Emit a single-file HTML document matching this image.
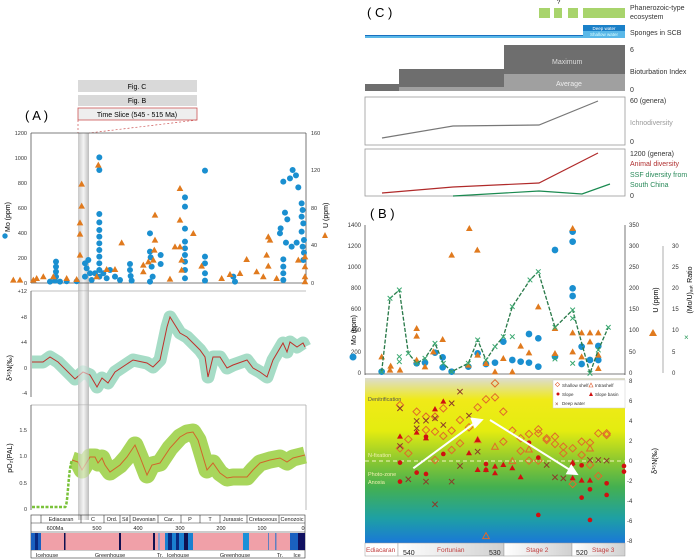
<!DOCTYPE html>
<html><head><meta charset="utf-8"><style>
body{margin:0;background:#fff}
svg{display:block;font-family:"Liberation Sans",sans-serif}
</style></head><body>
<svg width="700" height="559" viewBox="0 0 700 559" xmlns="http://www.w3.org/2000/svg">
<defs>
<linearGradient id="gB" x1="0" y1="0" x2="0" y2="1">
<stop offset="0" stop-color="#dcdcd2"/><stop offset="0.13" stop-color="#f0ea18"/><stop offset="0.32" stop-color="#e4ec10"/><stop offset="0.5" stop-color="#8cc830"/><stop offset="0.66" stop-color="#44b050"/><stop offset="0.85" stop-color="#1ea0a4"/><stop offset="1" stop-color="#1a78d8"/>
</linearGradient>
<linearGradient id="gBand" x1="0" y1="0" x2="1" y2="0">
<stop offset="0" stop-color="#c8c8c8"/><stop offset="0.5" stop-color="#f4f4f4"/><stop offset="1" stop-color="#bdbdbd"/>
</linearGradient>
<linearGradient id="gT" x1="0" y1="0" x2="1" y2="0">
<stop offset="0" stop-color="#fff"/><stop offset="1" stop-color="#d0d0d0"/>
</linearGradient>
</defs>

<!-- ===== Panel A ===== -->
<text x="25" y="120" font-size="13">( A )</text>
<rect x="78" y="80" width="119" height="12" fill="#d9d9d9"/>
<text x="137" y="89" font-size="7" text-anchor="middle">Fig. C</text>
<rect x="78" y="95" width="119" height="11" fill="#d9d9d9"/>
<text x="137" y="103" font-size="7" text-anchor="middle">Fig. B</text>
<rect x="78" y="108" width="119" height="12" fill="#eee" stroke="#c55" stroke-width="0.8"/>
<text x="137" y="117" font-size="7" text-anchor="middle">Time Slice (545 - 515 Ma)</text>
<line x1="78" y1="120" x2="78" y2="133" stroke="#c55" stroke-dasharray="2,2" stroke-width="0.7"/>
<line x1="197" y1="120" x2="89" y2="133" stroke="#c55" stroke-dasharray="2,2" stroke-width="0.7"/>
<rect x="78" y="133" width="11" height="387" fill="url(#gBand)"/>

<!-- scatter axes -->
<g stroke="#555" stroke-width="0.8" fill="none">
<line x1="31" y1="133" x2="306" y2="133"/><line x1="31" y1="133" x2="31" y2="283"/><line x1="306" y1="133" x2="306" y2="283"/><line x1="31" y1="283" x2="306" y2="283"/>
<line x1="31" y1="291" x2="306" y2="291" stroke="#aaa"/><line x1="31" y1="291" x2="31" y2="397"/>
<line x1="31" y1="405" x2="306" y2="405" stroke="#aaa"/><line x1="31" y1="405" x2="31" y2="510"/><line x1="306" y1="405" x2="306" y2="510" stroke="#aaa"/>
</g>
<g font-size="5.5" fill="#333" text-anchor="end">
<text x="27" y="135">1200</text><text x="27" y="160">1000</text><text x="27" y="185">800</text><text x="27" y="210">600</text><text x="27" y="235">400</text><text x="27" y="260">200</text><text x="27" y="285">0</text>
<text x="27" y="293">+12</text><text x="27" y="319">+8</text><text x="27" y="344">+4</text><text x="27" y="370">0</text><text x="27" y="395">-4</text>
<text x="27" y="432">1.5</text><text x="27" y="458">1.0</text><text x="27" y="485">0.5</text><text x="27" y="511">0</text>
</g>
<g font-size="5.5" fill="#333">
<text x="311" y="135">160</text><text x="311" y="172">120</text><text x="311" y="210">80</text><text x="311" y="247">40</text><text x="311" y="285">0</text>
</g>
<circle cx="5" cy="236" r="2.7" fill="#1a8fd0"/>
<text transform="translate(10,232) rotate(-90)" font-size="7">Mo (ppm)</text>
<text transform="translate(328,228) rotate(-90)" font-size="7">U (ppm)</text>
<polygon points="322,238 325,232 328,238" fill="#e07a1e"/>
<text transform="translate(12,368) rotate(-90)" font-size="7" text-anchor="middle">δ¹⁵N(‰)</text>
<text transform="translate(12,458) rotate(-90)" font-size="7" text-anchor="middle">pO₂(PAL)</text>

<!-- A scatter (zoom1 coords) -->
<g transform="translate(0,60) scale(0.3333)">
<g fill="#1a8fd0">
<circle cx="150" cy="665" r="9"/><circle cx="165" cy="662" r="9"/><circle cx="180" cy="665" r="9"/><circle cx="200" cy="664" r="9"/><circle cx="230" cy="664" r="9"/>
<circle cx="168" cy="605" r="9"/><circle cx="168" cy="620" r="9"/><circle cx="168" cy="635" r="9"/><circle cx="168" cy="650" r="9"/>
<circle cx="255" cy="610" r="9"/><circle cx="265" cy="600" r="9"/><circle cx="260" cy="625" r="9"/><circle cx="270" cy="640" r="9"/><circle cx="255" cy="650" r="9"/><circle cx="275" cy="660" r="9"/><circle cx="285" cy="640" r="9"/>
<circle cx="298" cy="292" r="9"/><circle cx="298" cy="330" r="9"/><circle cx="298" cy="462" r="9"/><circle cx="298" cy="487" r="9"/><circle cx="298" cy="510" r="9"/><circle cx="298" cy="530" r="9"/><circle cx="298" cy="550" r="9"/><circle cx="298" cy="570" r="9"/><circle cx="298" cy="590" r="9"/><circle cx="298" cy="610" r="9"/><circle cx="298" cy="630" r="9"/><circle cx="298" cy="650" r="9"/>
<circle cx="310" cy="640" r="9"/><circle cx="320" cy="655" r="9"/><circle cx="330" cy="630" r="9"/><circle cx="345" cy="650" r="9"/><circle cx="360" cy="660" r="9"/>
<circle cx="390" cy="612" r="9"/><circle cx="390" cy="630" r="9"/><circle cx="392" cy="648" r="9"/><circle cx="395" cy="662" r="9"/>
<circle cx="450" cy="520" r="9"/><circle cx="450" cy="575" r="9"/><circle cx="452" cy="592" r="9"/><circle cx="455" cy="620" r="9"/><circle cx="458" cy="650" r="9"/><circle cx="450" cy="665" r="9"/>
<circle cx="482" cy="585" r="9"/><circle cx="482" cy="612" r="9"/>
<circle cx="555" cy="412" r="9"/><circle cx="555" cy="440" r="9"/><circle cx="555" cy="506" r="9"/><circle cx="555" cy="545" r="9"/><circle cx="555" cy="565" r="9"/><circle cx="555" cy="585" r="9"/><circle cx="555" cy="605" r="9"/><circle cx="555" cy="630" r="9"/><circle cx="555" cy="655" r="9"/>
<circle cx="615" cy="332" r="9"/><circle cx="615" cy="590" r="9"/><circle cx="615" cy="610" r="9"/><circle cx="615" cy="640" r="9"/><circle cx="615" cy="662" r="9"/>
<circle cx="700" cy="650" r="9"/><circle cx="705" cy="665" r="9"/>
<circle cx="850" cy="365" r="9"/><circle cx="855" cy="458" r="9"/><circle cx="862" cy="478" r="9"/><circle cx="870" cy="355" r="9"/><circle cx="878" cy="330" r="9"/><circle cx="888" cy="346" r="9"/><circle cx="895" cy="382" r="9"/><circle cx="842" cy="505" r="9"/><circle cx="840" cy="520" r="9"/>
<circle cx="850" cy="598" r="9"/><circle cx="850" cy="620" r="9"/><circle cx="850" cy="640" r="9"/><circle cx="850" cy="660" r="9"/><circle cx="858" cy="548" r="9"/><circle cx="875" cy="560" r="9"/><circle cx="890" cy="548" r="9"/>
<circle cx="905" cy="430" r="9"/><circle cx="908" cy="450" r="9"/><circle cx="905" cy="470" r="9"/><circle cx="910" cy="490" r="9"/><circle cx="905" cy="515" r="9"/><circle cx="912" cy="540" r="9"/><circle cx="908" cy="560" r="9"/><circle cx="912" cy="578" r="9"/><circle cx="910" cy="600" r="9"/>
</g>
<g fill="#e07a1e">
<path d="M245 362l10 18h-20z M245 428l10 18h-20z M240 478l10 18h-20z M240 512l10 18h-20z M240 575l10 18h-20z M295 305l10 18h-20z M290 640l10 18h-20z M100 650l10 18h-20z M60 650l10 18h-20z M40 650l10 18h-20z M110 645l10 18h-20z M130 640l10 18h-20z M160 640l10 18h-20z M200 645l10 18h-20z M230 648l10 18h-20z M320 618l10 18h-20z M345 618l10 18h-20z M365 538l10 18h-20z M430 605l10 18h-20z M445 595l10 18h-20z M460 590l10 18h-20z M465 455l10 18h-20z M465 530l10 18h-20z M463 560l10 18h-20z M430 625l10 18h-20z M510 647l10 18h-20z M525 550l10 18h-20z M540 375l10 18h-20z M540 470l10 18h-20z M540 550l10 18h-20z M545 590l10 18h-20z M545 620l10 18h-20z M580 510l10 18h-20z M605 608l10 18h-20z M665 645l10 18h-20z M690 633l10 18h-20z M720 630l10 18h-20z M740 588l10 18h-20z M770 625l10 18h-20z M800 575l10 18h-20z M805 520l10 18h-20z M810 530l10 18h-20z M805 608l10 18h-20z M790 640l10 18h-20z M830 645l10 18h-20z M895 590l10 18h-20z M915 580l10 18h-20z M915 610l10 18h-20z M915 640l10 18h-20z M915 655l10 18h-20z"/>
</g>
</g>

<!-- d15N -->
<polyline fill="none" stroke="#a6dcc6" stroke-width="13" stroke-linejoin="round" points="32,362 43,362 50,357 58,362 75,379 83,372 90,375 97,387 102,378 108,383 115,372 133,360 147,363 153,367 160,360 167,327 170,317 175,325 180,333 187,337 193,343 200,350 205,357 208,377 213,357 220,357 227,368 233,365 247,360 253,368 260,372 267,377 273,360 283,343 287,352 290,342 297,347 303,343 305,347"/>
<polyline fill="none" stroke="#c0302a" stroke-width="1" points="32,362 43,362 50,357 58,362 75,379 83,372 90,375 97,387 102,378 108,383 115,372 133,360 147,363 153,367 160,360 167,327 170,317 175,325 180,333 187,337 193,343 200,350 205,357 208,377 213,357 220,357 227,368 233,365 247,360 253,368 260,372 267,377 273,360 283,343 287,352 290,342 297,347 303,343 305,347"/>
<rect x="78" y="291" width="11" height="110" fill="url(#gBand)" opacity="0.6"/>

<!-- pO2 -->
<polyline fill="none" stroke="#a8d65c" stroke-width="17" stroke-linejoin="round" points="72,460 78,462 82,470 90,457 95,457 98,463 102,458 105,465 110,472 120,465 127,457 135,445 140,457 147,475 152,465 160,463 170,448 180,437 187,433 193,432 198,440 207,470 213,463 220,473 227,478 233,477 247,477 253,470 260,463 270,460 280,458 287,462 293,458 305,455"/>
<polyline fill="none" stroke="#d0662a" stroke-width="1" points="72,460 78,462 82,470 90,457 95,457 98,463 102,458 105,465 110,472 120,465 127,457 135,445 140,457 147,475 152,465 160,463 170,448 180,437 187,433 193,432 198,440 207,470 213,463 220,473 227,478 233,477 247,477 253,470 260,463 270,460 280,458 287,462 293,458 305,455"/>
<path d="M32,507 L65,507 C68,507 68,470 72,460" fill="none" stroke="#7ac23a" stroke-width="2.5" stroke-dasharray="3,1.5"/>
<rect x="78" y="405" width="11" height="110" fill="url(#gBand)" opacity="0.6"/>

<!-- timescale A -->
<g stroke="#333" stroke-width="0.6" fill="none">
<rect x="31" y="515" width="274" height="43"/>
<line x1="31" y1="523" x2="305" y2="523"/><line x1="31" y1="532" x2="305" y2="532"/><line x1="31" y1="550" x2="305" y2="550"/>
<line x1="41" y1="515" x2="41" y2="523"/><line x1="81" y1="515" x2="81" y2="523"/><line x1="104" y1="515" x2="104" y2="523"/><line x1="120" y1="515" x2="120" y2="523"/><line x1="130" y1="515" x2="130" y2="523"/><line x1="158" y1="515" x2="158" y2="523"/><line x1="181" y1="515" x2="181" y2="523"/><line x1="200" y1="515" x2="200" y2="523"/><line x1="220" y1="515" x2="220" y2="523"/><line x1="247" y1="515" x2="247" y2="523"/><line x1="279" y1="515" x2="279" y2="523"/>
</g>
<g font-size="5.5" fill="#222" text-anchor="middle">
<text x="61" y="521">Ediacaran</text><text x="93" y="521">C</text><text x="112" y="521">Ord.</text><text x="125" y="521">Sil</text><text x="144" y="521">Devonian</text><text x="169" y="521">Car.</text><text x="190" y="521">P</text><text x="210" y="521">T</text><text x="233" y="521">Jurassic</text><text x="263" y="521">Cretaceous</text><text x="292" y="521">Cenozoic</text>
<text x="55" y="530">600Ma</text><text x="97" y="530">500</text><text x="138" y="530">400</text><text x="180" y="530">300</text><text x="221" y="530">200</text><text x="262" y="530">100</text><text x="303" y="530">0</text>
<text x="47" y="557">Icehouse</text><text x="110" y="557">Greenhouse</text><text x="160" y="557">Tr.</text><text x="178" y="557">Icehouse</text><text x="235" y="557">Greenhouse</text><text x="280" y="557">Tr.</text><text x="297" y="557">Ice</text>
</g>
<rect x="31" y="533" width="274" height="17" fill="#f0a0a8"/>
<g>
<rect x="31" y="533" width="10" height="17" fill="#1a60c0"/><rect x="35" y="533" width="3" height="17" fill="#0a2a80"/>
<rect x="64" y="533" width="1.5" height="17" fill="#101050"/><rect x="119" y="533" width="2" height="17" fill="#101050"/>
<rect x="153" y="533" width="2" height="17" fill="#101050"/><rect x="158" y="533" width="2" height="17" fill="#8aa0d0"/>
<rect x="165" y="533" width="28" height="17" fill="#1a80d0"/><rect x="168" y="533" width="4" height="17" fill="#0a2a80"/><rect x="176" y="533" width="3" height="17" fill="#0a2a80"/><rect x="184" y="533" width="4" height="17" fill="#101050"/>
<rect x="243" y="533" width="6" height="17" fill="#1a90d8"/><rect x="268" y="533" width="1" height="17" fill="#6080c0"/><rect x="275" y="533" width="1.5" height="17" fill="#6080c0"/>
<rect x="290" y="533" width="15" height="17" fill="#1a60c0"/><rect x="298" y="533" width="7" height="17" fill="#101060"/>
</g>

<!-- ===== Panel C ===== -->
<text x="367" y="17" font-size="13">( C )</text>
<text x="557" y="4" font-size="6">?</text>
<g fill="#a8d46c"><rect x="539" y="8" width="11" height="10"/><rect x="554" y="8" width="8" height="10"/><rect x="568" y="8" width="10" height="10"/><rect x="583" y="8" width="42" height="10"/></g>
<g font-size="7" fill="#333"><text x="630" y="10">Phanerozoic-type</text><text x="630" y="19">ecosystem</text><text x="630" y="35">Sponges in SCB</text></g>
<rect x="365" y="36" width="260" height="2" fill="#5ab8e8"/>
<rect x="365" y="35" width="218" height="1" fill="#1a70c0"/>
<rect x="583" y="25" width="42" height="6" fill="#1a80c8"/><text x="604" y="30" font-size="4.5" fill="#fff" text-anchor="middle">Deep water</text>
<rect x="583" y="31" width="42" height="7" fill="#5ab8e8"/><text x="604" y="36" font-size="4.5" fill="#dff" text-anchor="middle">Shallow water</text>
<rect x="365" y="84" width="34" height="7" fill="#6e6e6e"/>
<rect x="399" y="69" width="105" height="22" fill="#6e6e6e"/>
<rect x="504" y="45" width="121" height="29" fill="#6e6e6e"/>
<rect x="504" y="74" width="121" height="17" fill="#a0a0a0"/>
<rect x="399" y="87" width="105" height="4" fill="#a0a0a0"/>
<text x="552" y="64" font-size="7" fill="#ddd">Maximum</text><text x="556" y="86" font-size="7" fill="#eee">Average</text>
<g font-size="7" fill="#333"><text x="630" y="52">6</text><text x="630" y="74">Bioturbation Index</text><text x="630" y="92">0</text>
<text x="630" y="103">60 (genera)</text><text x="630" y="144">0</text><text x="630" y="156">1200 (genera)</text><text x="630" y="198">0</text></g>
<text x="630" y="125" font-size="7" fill="#999">Ichnodiversity</text>
<text x="630" y="166" font-size="7" fill="#b03030">Animal diversity</text>
<text x="630" y="177" font-size="7" fill="#2a8a5a">SSF diversity from</text>
<text x="630" y="187" font-size="7" fill="#2a8a5a">South China</text>
<rect x="365" y="97" width="260" height="48" fill="none" stroke="#999" stroke-width="0.8"/>
<rect x="365" y="149" width="260" height="47" fill="none" stroke="#999" stroke-width="0.8"/>
<polyline points="382,138 453,126 539,125 598,101" fill="none" stroke="#777" stroke-width="1.2"/>
<polyline points="382,193 453,187 539,183 598,153" fill="none" stroke="#b02a2a" stroke-width="1.2"/>
<polyline points="453,196 539,191 582,194 610,184" fill="none" stroke="#1a8a50" stroke-width="1.2"/>

<!-- ===== Panel B ===== -->
<text x="370" y="218" font-size="13">( B )</text>
<g stroke="#555" stroke-width="0.8" fill="none">
<line x1="365" y1="225" x2="365" y2="375"/><line x1="625" y1="225" x2="625" y2="375"/><line x1="365" y1="374" x2="625" y2="374"/>
<line x1="663" y1="246" x2="663" y2="373" stroke="#999"/>
</g>
<g font-size="6" fill="#333" text-anchor="end">
<text x="361" y="227">1400</text><text x="361" y="248">1200</text><text x="361" y="269">1000</text><text x="361" y="290">800</text><text x="361" y="311">600</text><text x="361" y="332">400</text><text x="361" y="354">200</text><text x="361" y="375">0</text>
</g>
<g font-size="6" fill="#333">
<text x="629" y="227">350</text><text x="629" y="248">300</text><text x="629" y="269">250</text><text x="629" y="290">200</text><text x="629" y="311">150</text><text x="629" y="332">100</text><text x="629" y="354">50</text><text x="629" y="375">0</text>
<text x="672" y="248">30</text><text x="672" y="269">25</text><text x="672" y="290">20</text><text x="672" y="311">15</text><text x="672" y="332">10</text><text x="672" y="354">5</text><text x="672" y="375">0</text>
</g>
<text transform="translate(356,330) rotate(-90)" font-size="7" text-anchor="middle">Mo (ppm)</text>
<circle cx="353" cy="357" r="3.5" fill="#1a8fd0"/>
<text transform="translate(658,300) rotate(-90)" font-size="7" text-anchor="middle">U (ppm)</text>
<polygon points="649,336 653,329 657,336" fill="#e07a1e"/>
<text transform="translate(692,290) rotate(-90)" font-size="7" text-anchor="middle">(Mo/U)ₐᵤₜ Ratio</text>
<text x="684" y="340" font-size="8" fill="#2a9a5a">×</text>

<g transform="translate(350,240) scale(0.3333)">
<g fill="#1a8fd0">
<circle cx="95" cy="395" r="10"/><circle cx="200" cy="370" r="10"/><circle cx="225" cy="368" r="10"/><circle cx="255" cy="338" r="10"/><circle cx="278" cy="352" r="10"/><circle cx="278" cy="382" r="10"/><circle cx="305" cy="395" r="10"/><circle cx="355" cy="380" r="10"/><circle cx="383" cy="340" r="10"/><circle cx="408" cy="372" r="10"/><circle cx="435" cy="368" r="10"/><circle cx="460" cy="305" r="10"/><circle cx="487" cy="360" r="10"/><circle cx="512" cy="365" r="10"/><circle cx="537" cy="368" r="10"/><circle cx="537" cy="282" r="10"/><circle cx="565" cy="295" r="10"/><circle cx="565" cy="380" r="10"/><circle cx="615" cy="350" r="10"/><circle cx="615" cy="30" r="10"/><circle cx="668" cy="5" r="10"/><circle cx="668" cy="145" r="10"/><circle cx="668" cy="168" r="10"/><circle cx="695" cy="320" r="10"/><circle cx="695" cy="372" r="10"/><circle cx="720" cy="360" r="10"/><circle cx="745" cy="318" r="10"/><circle cx="745" cy="360" r="10"/><circle cx="668" cy="-25" r="10"/>
</g>
<g fill="#e07a1e">
<path d="M95 340l10 18h-20z M122 368l10 18h-20z M200 255l10 18h-20z M200 278l10 18h-20z M200 350l10 18h-20z M250 325l10 18h-20z M278 288l10 18h-20z M305 35l10 18h-20z M355 365l10 18h-20z M382 20l10 18h-20z M383 335l10 18h-20z M435 385l10 18h-20z M460 345l10 18h-20z M487 385l10 18h-20z M512 308l10 18h-20z M537 328l10 18h-20z M565 190l10 18h-20z M615 255l10 18h-20z M615 330l10 18h-20z M668 268l10 18h-20z M668 325l10 18h-20z M695 268l10 18h-20z M695 340l10 18h-20z M720 268l10 18h-20z M720 295l10 18h-20z M745 268l10 18h-20z M745 335l10 18h-20z M745 375l10 18h-20z M120 380l10 18h-20z M150 380l10 18h-20z M225 370l10 18h-20z M358 -45l10 18h-20z M668 -45l10 18h-20z M408 360l10 18h-20z"/>
</g>
<polyline fill="none" stroke="#2a7a4a" stroke-width="4" stroke-dasharray="12,5" points="95,395 120,175 148,150 175,340 200,370 225,355 255,310 280,370 305,395 355,370 383,300 408,360 435,320 460,290 487,200 540,120 565,95 615,262 668,210 720,400 745,330 775,262"/>
<g stroke="#3aa870" stroke-width="3" fill="none">
<path d="M88 388l14 14m0-14l-14 14 M113 168l14 14m0-14l-14 14 M141 143l14 14m0-14l-14 14 M168 333l14 14m0-14l-14 14 M193 363l14 14m0-14l-14 14 M218 348l14 14m0-14l-14 14 M248 303l14 14m0-14l-14 14 M273 363l14 14m0-14l-14 14 M298 388l14 14m0-14l-14 14 M348 363l14 14m0-14l-14 14 M376 293l14 14m0-14l-14 14 M401 353l14 14m0-14l-14 14 M428 313l14 14m0-14l-14 14 M453 283l14 14m0-14l-14 14 M480 193l14 14m0-14l-14 14 M533 113l14 14m0-14l-14 14 M558 88l14 14m0-14l-14 14 M608 255l14 14m0-14l-14 14 M661 203l14 14m0-14l-14 14 M713 393l14 14m0-14l-14 14 M738 323l14 14m0-14l-14 14 M768 255l14 14m0-14l-14 14 M141 343l14 14m0-14l-14 14 M141 358l14 14m0-14l-14 14 M480 283l14 14m0-14l-14 14 M661 363l14 14m0-14l-14 14 M608 350l14 14m0-14l-14 14 M661 228l14 14m0-14l-14 14"/>
</g>
</g>

<!-- B bottom -->
<rect x="365" y="378" width="260" height="165" fill="url(#gB)"/>
<line x1="365" y1="461" x2="625" y2="461" stroke="#f4f4c0" stroke-width="1" stroke-dasharray="4,3"/>
<g font-size="5.5" fill="#555"><text x="368" y="401">Denitrification</text></g>
<g font-size="5.5" fill="#f0f0b0"><text x="368" y="457">N-fixation</text><text x="368" y="476">Photo-zone</text><text x="368" y="484">Anoxia</text></g>
<g font-size="6" fill="#333">
<text x="629" y="383">8</text><text x="629" y="403">6</text><text x="629" y="423">4</text><text x="629" y="443">2</text><text x="629" y="463">0</text><text x="627" y="483">-2</text><text x="627" y="503">-4</text><text x="627" y="523">-6</text><text x="627" y="543">-8</text>
</g>
<text transform="translate(657,461) rotate(-90)" font-size="7" text-anchor="middle">δ¹⁵N(‰)</text>
<rect x="553" y="380" width="72" height="28" fill="#fff" stroke="#ccc" stroke-width="0.5"/>
<g font-size="4.5" fill="#333"><text x="562" y="387">Shallow shelf</text><text x="595" y="387">Intrashelf</text><text x="562" y="396">Slope</text><text x="595" y="396">Slope basin</text><text x="562" y="405">Deep water</text></g>
<rect x="556" y="383" width="3" height="3" transform="rotate(45 557.5 384.5)" fill="none" stroke="#e05a2a" stroke-width="0.6"/>
<polygon points="589,387 591,383 593,387" fill="none" stroke="#e05a2a" stroke-width="0.6"/>
<circle cx="558" cy="394" r="1.5" fill="#d01010"/><polygon points="589,396 591,392 593,396" fill="#d01010"/>
<text x="555" y="406" font-size="6" fill="#8b3a2a">×</text>

<g transform="translate(350,240) scale(0.3333)">
<g fill="none" stroke="#e06a2a" stroke-width="3">
<path d="M150 484l11 11-11 11-11-11z M175 587l11 11-11 11-11-11z M200 504l11 11-11 11-11-11z M228 519l11 11-11 11-11-11z M255 519l11 11-11 11-11-11z M280 494l11 11-11 11-11-11z M305 561l11 11-11 11-11-11z M330 529l11 11-11 11-11-11z M357 551l11 11-11 11-11-11z M383 491l11 11-11 11-11-11z M408 467l11 11-11 11-11-11z M435 461l11 11-11 11-11-11z M460 504l11 11-11 11-11-11z M487 561l11 11-11 11-11-11z M512 584l11 11-11 11-11-11z M537 571l11 11-11 11-11-11z M565 557l11 11-11 11-11-11z M590 584l11 11-11 11-11-11z M615 579l11 11-11 11-11-11z M640 609l11 11-11 11-11-11z M668 614l11 11-11 11-11-11z M695 594l11 11-11 11-11-11z M720 597l11 11-11 11-11-11z M745 569l11 11-11 11-11-11z M770 569l11 11-11 11-11-11z M150 614l11 11-11 11-11-11z M175 629l11 11-11 11-11-11z M228 559l11 11-11 11-11-11z M255 564l11 11-11 11-11-11z M280 577l11 11-11 11-11-11z M305 619l11 11-11 11-11-11z M330 599l11 11-11 11-11-11z M435 419l11 11-11 11-11-11z M460 594l11 11-11 11-11-11z M512 622l11 11-11 11-11-11z M537 651l11 11-11 11-11-11z M565 569l11 11-11 11-11-11z M590 589l11 11-11 11-11-11z M615 601l11 11-11 11-11-11z M640 629l11 11-11 11-11-11z M668 721l11 11-11 11-11-11z M695 634l11 11-11 11-11-11z M720 664l11 11-11 11-11-11z M745 697l11 11-11 11-11-11z M770 574l11 11-11 11-11-11z M255 649l11 11-11 11-11-11z M565 651l11 11-11 11-11-11z M228 519l11 11-11 11-11-11z"/>
<path d="M383 590l10 18h-20z M435 610l10 18h-20z M487 653l10 18h-20z M537 618l10 18h-20z M720 615l10 18h-20z M408 878l10 18h-20z"/>
</g>
<g stroke="#8b3a2a" stroke-width="3" fill="none">
<path d="M142 497l16 16m0-16l-16 16 M142 610l16 16m0-16l-16 16 M167 710l16 16m0-16l-16 16 M192 557l16 16m0-16l-16 16 M220 534l16 16m0-16l-16 16 M247 527l16 16m0-16l-16 16 M272 547l16 16m0-16l-16 16 M297 482l16 16m0-16l-16 16 M322 447l16 16m0-16l-16 16 M349 519l16 16m0-16l-16 16 M375 627l16 16m0-16l-16 16 M297 717l16 16m0-16l-16 16 M220 717l16 16m0-16l-16 16 M247 785l16 16m0-16l-16 16 M322 670l16 16m0-16l-16 16 M582 667l16 16m0-16l-16 16 M607 704l16 16m0-16l-16 16 M632 707l16 16m0-16l-16 16 M712 652l16 16m0-16l-16 16 M737 652l16 16m0-16l-16 16 M762 654l16 16m0-16l-16 16 M192 535l16 16m0-16l-16 16"/>
</g>
<g fill="#d01010">
<circle cx="150" cy="668" r="7"/><circle cx="150" cy="725" r="7"/><circle cx="200" cy="698" r="7"/><circle cx="228" cy="702" r="7"/><circle cx="228" cy="590" r="7"/><circle cx="280" cy="642" r="7"/><circle cx="408" cy="672" r="7"/><circle cx="408" cy="690" r="7"/><circle cx="565" cy="653" r="7"/><circle cx="565" cy="825" r="7"/><circle cx="668" cy="672" r="7"/><circle cx="695" cy="773" r="7"/><circle cx="720" cy="748" r="7"/><circle cx="720" cy="840" r="7"/><circle cx="770" cy="730" r="7"/><circle cx="770" cy="765" r="7"/><circle cx="822" cy="678" r="7"/><circle cx="822" cy="695" r="7"/><circle cx="537" cy="608" r="7"/><circle cx="695" cy="676" r="7"/>
<path d="M150 580l9 16h-18z M200 568l9 16h-18z M255 498l9 16h-18z M280 475l9 16h-18z M357 630l9 16h-18z M383 680l9 16h-18z M408 680l9 16h-18z M435 670l9 16h-18z M460 665l9 16h-18z M487 675l9 16h-18z M512 702l9 16h-18z M668 705l9 16h-18z M695 712l9 16h-18z M720 712l9 16h-18z M668 658l9 16h-18z M435 690l9 16h-18z M383 590l9 16h-18z M228 585l9 16h-18z"/>
</g>
<g stroke="#fff" stroke-width="6" fill="#fff">
<line x1="190" y1="685" x2="375" y2="548"/><path d="M395 540l-30 -4 10 25z"/>
<line x1="420" y1="540" x2="660" y2="690"/><path d="M680 702l-28 -2 12 -22z"/>
</g>
</g>

<!-- B timescale -->
<rect x="365" y="543" width="33" height="13" fill="#fff" stroke="#999" stroke-width="0.5"/>
<rect x="398" y="543" width="106" height="13" fill="url(#gT)" stroke="#999" stroke-width="0.5"/>
<rect x="504" y="543" width="68" height="13" fill="url(#gT)" stroke="#999" stroke-width="0.5"/>
<rect x="572" y="543" width="53" height="13" fill="url(#gT)" stroke="#999" stroke-width="0.5"/>
<g font-size="6.5" fill="#c04040"><text x="366" y="552">Ediacaran</text><text x="437" y="552">Fortunian</text><text x="526" y="552">Stage 2</text><text x="592" y="552">Stage 3</text></g>
<g font-size="7" fill="#222"><text x="403" y="555">540</text><text x="489" y="555">530</text><text x="576" y="555">520</text></g>
</svg>
</body></html>
